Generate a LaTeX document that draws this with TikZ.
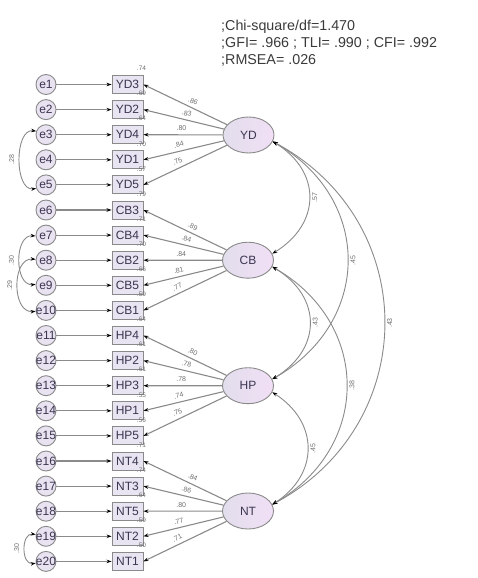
\documentclass[tikz,border=0pt]{standalone}
\usepackage{fontspec}
\setmainfont{Liberation Sans}
\usetikzlibrary{shapes.geometric,arrows.meta}
\definecolor{lnc}{HTML}{8A8A8A}
\definecolor{efill}{HTML}{E9E2F1}
\definecolor{bfill}{HTML}{E8E4F1}
\definecolor{lfillA}{HTML}{E2DEEC}
\definecolor{lfillB}{HTML}{F1DFF6}
\definecolor{ntext}{HTML}{3B3550}
\definecolor{labc}{HTML}{6E6E6E}
\definecolor{stc}{HTML}{3A3A3A}
\begin{document}
\begin{tikzpicture}[x=1pt,y=1pt,
  errnode/.style={circle, draw=lnc, line width=0.9pt, fill=efill, minimum size=20pt, inner sep=0pt, font=\fontsize{12}{12}\selectfont, text=ntext},
  obsnode/.style={rectangle, draw=lnc, line width=0.9pt, fill=bfill, minimum width=31pt, minimum height=18pt, inner sep=0pt, font=\fontsize{12}{12}\selectfont, text=ntext},
  latnode/.style={ellipse, draw=lnc, line width=0.9pt, left color=lfillA, right color=lfillB, minimum width=51pt, minimum height=36pt, inner sep=0pt, font=\fontsize{12}{12}\selectfont, text=ntext},
  arr/.style={draw=lnc, line width=1.1pt, -{Stealth[length=5pt,width=3.5pt,black]}},
  cov/.style={draw=lnc, line width=0.9pt, {Stealth[length=5pt,width=3.5pt,black]}-{Stealth[length=5pt,width=3.5pt,black]}},
  lab/.style={font=\fontsize{7}{7}\selectfont, text=labc, inner sep=1pt},
  rsq/.style={font=\fontsize{6.5}{6.5}\selectfont, text=labc, inner sep=0pt},
  rlab/.style={lab, rotate=90, anchor=north, inner sep=2.5pt},
  llab/.style={lab, rotate=90, anchor=south, inner sep=5pt},
]
\useasboundingbox (0,0) rectangle (478,-578);

% fit statistics
\node[anchor=north west, align=left, inner sep=0pt, font=\fontsize{14.3}{17}\selectfont, text=stc] (fit) at (221,-20)
  {;Chi-square/df=1.470\\;GFI= .966 ; TLI= .990 ; CFI= .992\\;RMSEA= .026};

% error terms, indicators, R^2
\foreach \i/\n/\r in {1/YD3/.74, 2/YD2/.69, 3/YD4/.64, 4/YD1/.70, 5/YD5/.57,
                      6/CB3/.79, 7/CB4/.71, 8/CB2/.70, 9/CB5/.66, 10/CB1/.59,
                      11/HP4/.64, 12/HP2/.61, 13/HP3/.61, 14/HP1/.55, 15/HP5/.56,
                      16/NT4/.71, 17/NT3/.74, 18/NT5/.64, 19/NT2/.59, 20/NT1/.50}{
  \pgfmathsetmacro\yy{-(84.5+25.1*(\i-1))}
  \node[errnode] (e\i) at (46,\yy) {\makebox[0pt]{e\i}};
  \node[obsnode] (o\i) at (127.5,\yy) {\n};
  \node[rsq] (r\i) at (141.5,\yy+16) {\r};
  \draw[arr] (e\i) -- (o\i.west);
}

% latent factors
\node[latnode] (YD) at (248.5,-135) {YD};
\node[latnode] (CB) at (248,-260.2) {CB};
\node[latnode] (HP) at (248,-385.7) {HP};
\node[latnode] (NT) at (248,-511) {NT};

% loadings
\foreach \i/\lat/\l/\p in {1/YD/.86/.44, 2/YD/.83/.48, 3/YD/.80/.52, 4/YD/.84/.54, 5/YD/.75/.56,
                           6/CB/.89/.44, 7/CB/.84/.48, 8/CB/.84/.52, 9/CB/.81/.54, 10/CB/.77/.56,
                           11/HP/.80/.44, 12/HP/.78/.48, 13/HP/.78/.52, 14/HP/.74/.54, 15/HP/.75/.56,
                           16/NT/.84/.44, 17/NT/.86/.48, 18/NT/.80/.52, 19/NT/.77/.54, 20/NT/.71/.56}{
  \draw[arr] (\lat) -- (o\i.east) node[lab, pos=\p, sloped, above=2.5pt] {\l};
}

% factor covariances
\draw[cov] (YD.-15) .. controls +(49,-30) and +(49,30) .. (CB.15) node[rlab, pos=.5] {.57};
\draw[cov] (YD.-15) .. controls +(100,-57) and +(100,57) .. (HP.15) node[rlab, pos=.5] {.45};
\draw[cov] (YD.-15) .. controls +(149,-80) and +(149,80) .. (NT.15) node[rlab, pos=.5] {.43};
\draw[cov] (CB.-15) .. controls +(50,-30) and +(50,30) .. (HP.15) node[rlab, pos=.5] {.43};
\draw[cov] (CB.-15) .. controls +(99,-57) and +(99,57) .. (NT.15) node[rlab, pos=.5] {.38};
\draw[cov] (HP.-15) .. controls +(47,-30) and +(47,30) .. (NT.15) node[rlab, pos=.5] {.45};

% error covariances
\draw[cov] (e3.160) .. controls +(-22,3) and +(-22,-3) .. (e5.200) node[llab, pos=.5] {.28};
\draw[cov] (e7.185) .. controls +(-21.5,2) and +(-21.5,-2) .. (e9.175) node[llab, pos=.5] {.30};
\draw[cov] (e8.175) .. controls +(-24,2) and +(-24,-2) .. (e10.185) node[llab, pos=.5] {.29};
\draw[cov] (e19.170) .. controls +(-14.7,2) and +(-14.7,-2) .. (e20.190) node[llab, pos=.5] {.30};
\end{tikzpicture}
\end{document}
